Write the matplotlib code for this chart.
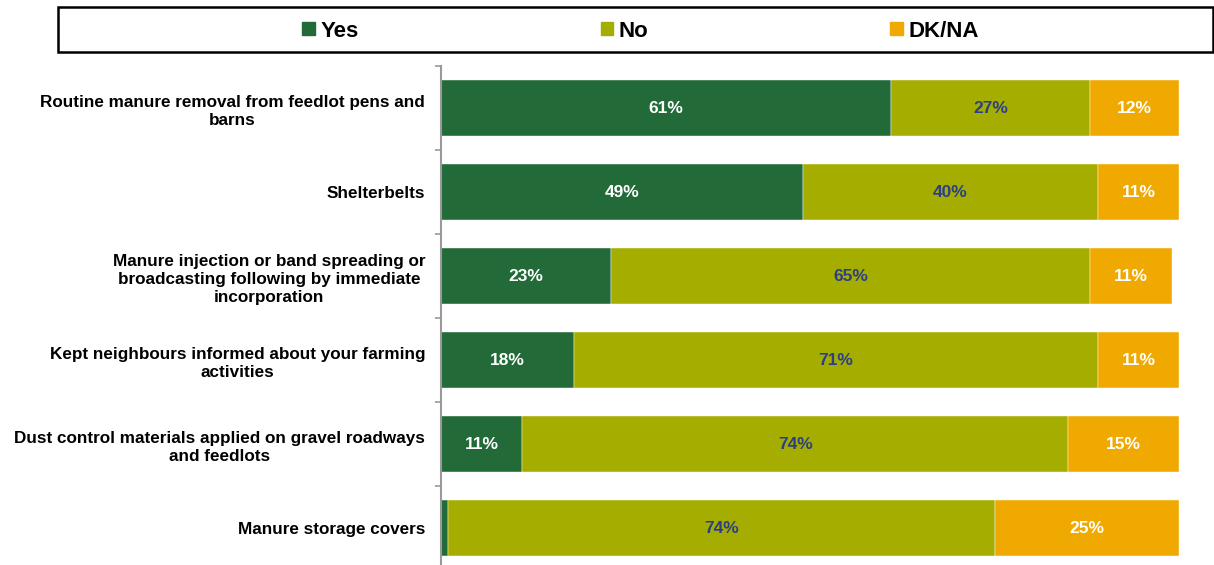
import matplotlib.pyplot as plt
from matplotlib.patches import Patch, Rectangle
import numpy as np

plt.rcParams['font.family'] = ['Liberation Sans', 'DejaVu Sans']

# datos (de arriba a abajo)
categories = [
    'Routine manure removal from feedlot pens and\nbarns',
    'Shelterbelts',
    'Manure injection or band spreading or\nbroadcasting following by immediate\nincorporation',
    'Kept neighbours informed about your farming\nactivities',
    'Dust control materials applied on gravel roadways\nand feedlots',
    'Manure storage covers',
]
yes = [61, 49, 23, 18, 11, 1]
no = [27, 40, 65, 71, 74, 74]
dkna = [12, 11, 11, 11, 15, 25]
series_names = ['Yes', 'No', 'DK/NA']

colors = ['#226A38', '#A5AD00', '#F0A900']
label_colors = ['white', '#2B3F87', 'white']

fig = plt.figure(figsize=(12.14, 5.65), dpi=100)
ax = fig.add_axes([441 / 1214, -0.0097, 738 / 1214, 504 / 565])

y = np.arange(len(categories))
left = np.zeros(len(categories))
for vals, col, lcol in zip([yes, no, dkna], colors, label_colors):
    vals = np.array(vals)
    bars = ax.barh(y, vals, left=left, height=0.667, color=col,
                   edgecolor='white', linewidth=0.3)
    for b, v in zip(bars, vals):
        if v >= 5:
            ax.text(b.get_x() + b.get_width() / 2, b.get_y() + b.get_height() / 2,
                    f'{v}%', ha='center', va='center', color=lcol,
                    fontsize=12.5, fontweight='bold')
    left += vals

ax.set_xlim(0, 100)
ax.set_ylim(len(categories) - 0.5, -0.5)
ax.set_yticks(y)
ax.set_yticklabels(categories, fontsize=12.3, fontweight='bold',
                   multialignment='center', linespacing=1.27)
ax.set_yticks(np.arange(-0.5, len(categories)), minor=True)
ax.tick_params(axis='y', which='major', length=0, pad=11.5)
ax.tick_params(axis='y', which='minor', length=4, width=1.2, color='#999999')
ax.set_xticks([])
for s in ['top', 'right', 'bottom']:
    ax.spines[s].set_visible(False)
ax.spines['left'].set_color('#999999')
ax.spines['left'].set_linewidth(1.5)

# caja de la leyenda
fig.patches.append(Rectangle((58 / 1214, 1 - 52 / 565), (1213 - 58) / 1214, 45 / 565,
                             transform=fig.transFigure, fill=False,
                             edgecolor='black', linewidth=1.8))
handles = [Patch(color=c) for c in colors]
fig.legend(handles, series_names, loc='center', bbox_to_anchor=(0.5276, 0.945),
           ncol=3, frameon=False, prop={'size': 16, 'weight': 'bold'},
           handlelength=0.55, handleheight=0.55, handletextpad=0.25,
           columnspacing=10.9)

fig.savefig('out.png', dpi=100)
